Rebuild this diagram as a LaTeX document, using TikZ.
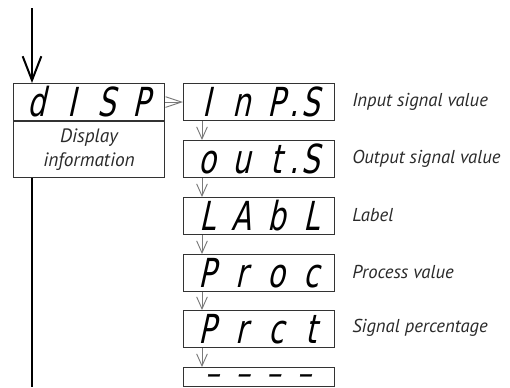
\documentclass[tikz,border=0pt]{standalone}
\usepackage{fontspec}
\setmainfont{PT Sans}
\newfontfamily\segfont{DejaVu Sans}[FakeSlant=0.22, FakeStretch=0.72]
\newfontfamily\segdashfont{DejaVu Sans Bold}[FakeSlant=0.22, FakeStretch=0.8, FakeBold=1.5]
\usetikzlibrary{arrows.meta,calc}
\newcommand\dg[1]{\makebox[26pt][c]{#1}}
\newcommand\dd{\makebox[23pt][c]{—}}
\newcommand\dpt{\makebox[0pt][c]{.}}
\definecolor{boxgray}{HTML}{333333}
\definecolor{arrgray}{HTML}{7A7A7A}
\definecolor{txtgray}{HTML}{2A2A2A}
\tikzset{
  segbox/.style={draw=boxgray, line width=0.8pt, minimum width=151*0.75pt, minimum height=37*0.75pt, inner sep=0pt, font=\segfont\fontsize{30}{30}\selectfont, anchor=north west},
  descbox/.style={draw=boxgray, line width=0.8pt, minimum width=151*0.75pt, minimum height=56*0.75pt, inner sep=0pt, align=center, font=\itshape\fontsize{14.5}{18.5}\selectfont, text=txtgray, anchor=north west},
  lbl/.style={anchor=west, inner sep=0pt, font=\itshape\fontsize{14}{16}\selectfont, text=txtgray},
  mainline/.style={line width=1.5pt, black},
  garrow/.style={draw=arrgray, line width=0.7pt, -{Straight Barb[length=9pt, width=8pt]}},
  rarrow/.style={draw=arrgray, line width=0.7pt, -{Straight Barb[length=12pt, width=8pt]}}
}
\begin{document}
\begin{tikzpicture}[x=0.75pt, y=-0.75pt]
\useasboundingbox (0,0) rectangle (510,387);
% left column
\node[segbox] (disp) at (13,83) {\dg{d}\dg{I}\dg{S}\dg{P}};
\node[descbox] (dispdesc) at (13,121) {Display\\information};
\coordinate (start) at (32,8);
\coordinate (endl) at (32,387);
\draw[mainline, -{Straight Barb[length=18pt, width=14pt, line width=1.5pt]}] (start) -- (start |- disp.north);
\draw[mainline] (dispdesc.south -| start) -- (endl);
% right column
\node[segbox] (b1) at (183,83) {\dg{I}\dg{n}\dg{P}\dpt\dg{S}};
\node[segbox] (b2) at (183,140) {\dg{o}\dg{u}\dg{t}\dpt\dg{S}};
\node[segbox] (b3) at (183,197) {\dg{L}\dg{A}\dg{b}\dg{L}};
\node[segbox] (b4) at (183,254) {\dg{P}\dg{r}\dg{o}\dg{c}};
\node[segbox] (b5) at (183,310) {\dg{P}\dg{r}\dg{c}\dg{t}};
\node[segbox, minimum height=19*0.75pt, font=\segdashfont\fontsize{12}{12}\selectfont] (b6) at (183,367) {\dd\dd\dd\dd};
% labels
\node[lbl] (l1) at (352,102) {Input signal value};
\node[lbl] (l2) at (352,159) {Output signal value};
\node[lbl] (l3) at (352,215) {Label};
\node[lbl] (l4) at (352,272) {Process value};
\node[lbl] (l5) at (352,328) {Signal percentage};
% arrows
\draw[rarrow] (disp.east) -- (b1.west);
\foreach \a/\b in {b1/b2, b2/b3, b3/b4, b4/b5, b5/b6}
  \draw[garrow] ($(\a.south west)+(19,0)$) -- ($(\b.north west)+(19,0)$);
\end{tikzpicture}
\end{document}
